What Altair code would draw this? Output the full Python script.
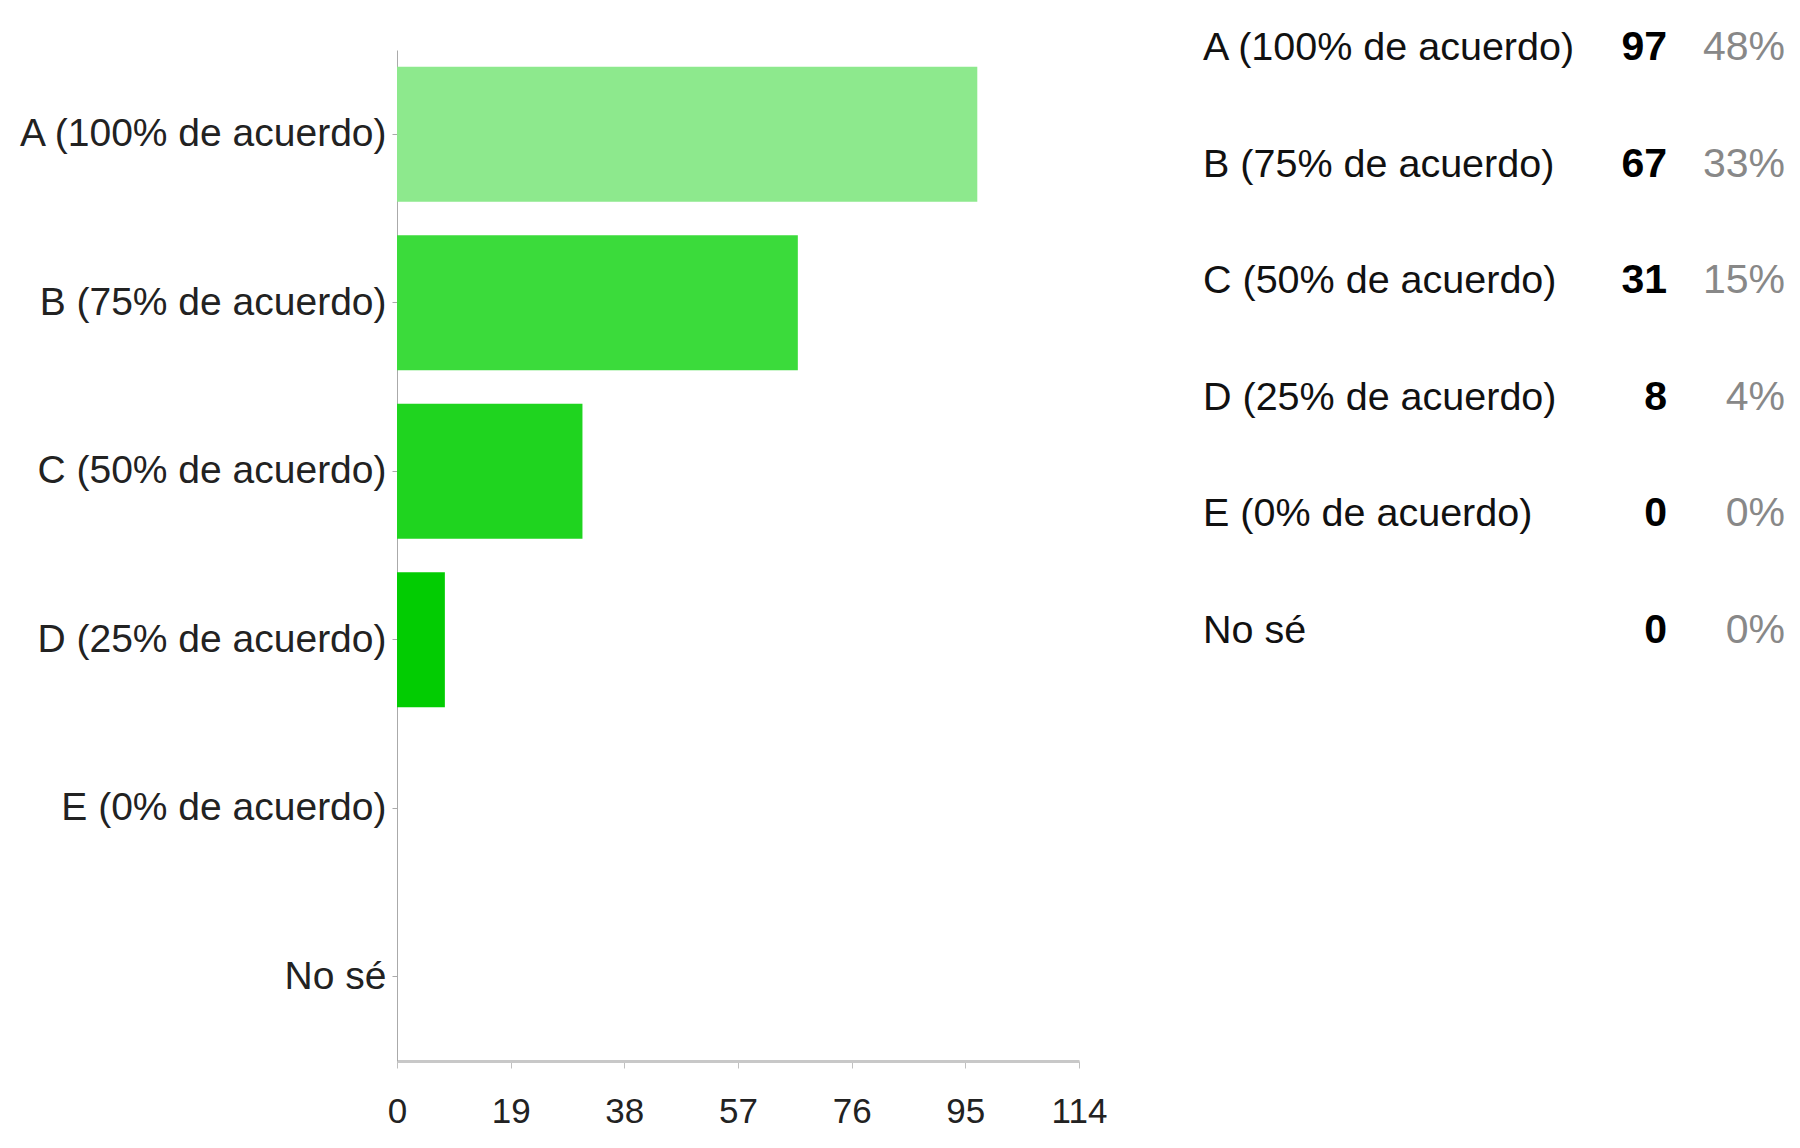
import altair as alt
import pandas as pd

categories = ["A (100% de acuerdo)", "B (75% de acuerdo)", "C (50% de acuerdo)",
              "D (25% de acuerdo)", "E (0% de acuerdo)", "No sé"]
counts = [97, 67, 31, 8, 0, 0]
percents = ["48%", "33%", "15%", "4%", "0%", "0%"]
bar_colors = ["#8de98d", "#3bdb3b", "#1fd41f", "#02cc02", "#00b800", "#00a000"]
x_ticks = [0, 19, 38, 57, 76, 95, 114]

df = pd.DataFrame({"cat": categories, "n": counts, "pct": percents, "color": bar_colors})

FONT = "Liberation Sans"

bars = alt.Chart(df).mark_bar().encode(
    x=alt.X("n:Q", scale=alt.Scale(domain=[0, 114], nice=False),
            axis=alt.Axis(values=x_ticks, title=None, grid=False, domainColor="#c8c8c8",
                          domainWidth=3, tickColor="#c0c0c0", tickSize=7, labelFont=FONT,
                          labelFontSize=35, labelColor="#222", labelPadding=26,
                          labelFlush=False)),
    y=alt.Y("cat:N", sort=categories, scale=alt.Scale(paddingInner=0.2, paddingOuter=0.1),
            axis=alt.Axis(title=None, domainColor="#aaa", tickColor="#aaa", tickSize=5,
                          labelFont=FONT, labelFontSize=39, labelColor="#222",
                          labelPadding=6, labelLimit=0)),
    color=alt.Color("color:N", scale=None),
)

table_y = alt.Y("cat:N", sort=categories,
                scale=alt.Scale(type="point", range=[-2, 581], padding=0), axis=None)

labels = alt.Chart(df).mark_text(align="left", baseline="middle", font=FONT, fontSize=39.5,
                                 color="#111").encode(x=alt.value(806), y=table_y, text="cat:N")
nums = alt.Chart(df).mark_text(align="right", baseline="middle", font=FONT, fontSize=41,
                               fontWeight="bold", color="#000").encode(
    x=alt.value(1270), y=table_y, text="n:Q")
pcts = alt.Chart(df).mark_text(align="right", baseline="middle", font=FONT, fontSize=41,
                               color="#888").encode(x=alt.value(1388), y=table_y, text="pct:N")

chart = alt.layer(bars, labels, nums, pcts).resolve_scale(y="independent").properties(
    width=682, height=1011,
    padding={"left": 389, "top": 42, "right": 709, "bottom": 67},
    autosize=alt.AutoSizeParams(type="none"),
    background="white",
).configure_view(stroke=None)

chart.save("out.html", embed_options={"renderer": "svg", "actions": False})
